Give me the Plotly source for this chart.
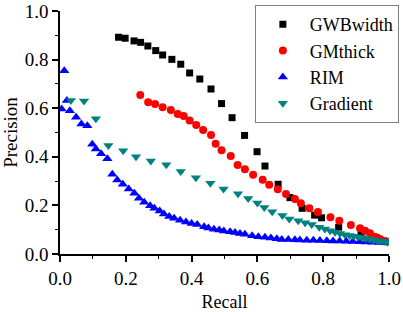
import plotly.graph_objects as go

# GWBwidth (black squares)
gwb_recall = [0.178, 0.198, 0.225, 0.245, 0.267, 0.291, 0.312, 0.340, 0.367, 0.394,
              0.425, 0.459, 0.491, 0.523, 0.561, 0.599, 0.623, 0.663, 0.699, 0.736,
              0.774, 0.795, 0.847, 0.915, 0.961, 1.000]
gwb_precision = [0.892, 0.888, 0.877, 0.871, 0.856, 0.837, 0.819, 0.801, 0.781, 0.745,
                 0.720, 0.679, 0.619, 0.561, 0.488, 0.421, 0.362, 0.287, 0.232, 0.188,
                 0.160, 0.149, 0.110, 0.081, 0.067, 0.050]

# GMthick (red circles)
gm_recall = [0.244, 0.268, 0.289, 0.312, 0.337, 0.358, 0.376, 0.394, 0.414, 0.435,
             0.459, 0.473, 0.491, 0.519, 0.540, 0.562, 0.587, 0.616, 0.636, 0.662,
             0.687, 0.714, 0.732, 0.758, 0.784, 0.822, 0.849, 0.884, 0.912, 0.927,
             0.942, 0.957, 0.973, 0.988]
gm_precision = [0.654, 0.624, 0.617, 0.604, 0.593, 0.576, 0.568, 0.549, 0.531, 0.510,
                0.490, 0.454, 0.427, 0.403, 0.366, 0.349, 0.326, 0.306, 0.285, 0.266,
                0.247, 0.226, 0.209, 0.188, 0.173, 0.151, 0.137, 0.119, 0.106, 0.096,
                0.085, 0.071, 0.062, 0.054]

# RIM (blue triangles)
rim_recall = [0.005, 0.013, 0.021, 0.030, 0.049, 0.065, 0.083, 0.098, 0.109, 0.125,
              0.144, 0.159, 0.174, 0.191, 0.209, 0.226, 0.240, 0.256, 0.274, 0.287,
              0.303, 0.316, 0.332, 0.347, 0.365, 0.383, 0.400, 0.417, 0.438, 0.451,
              0.468, 0.484, 0.498, 0.517, 0.532, 0.547, 0.562, 0.584, 0.603, 0.623,
              0.641, 0.659, 0.674, 0.694, 0.714, 0.729, 0.750, 0.770, 0.790, 0.811,
              0.830, 0.850, 0.870, 0.890, 0.910, 0.930, 0.950, 0.970, 0.990]
rim_precision = [0.597, 0.754, 0.632, 0.590, 0.563, 0.535, 0.528, 0.452, 0.432, 0.413,
                 0.392, 0.328, 0.305, 0.287, 0.267, 0.250, 0.229, 0.213, 0.199, 0.188,
                 0.177, 0.165, 0.154, 0.147, 0.139, 0.132, 0.126, 0.121, 0.112, 0.107,
                 0.102, 0.099, 0.095, 0.092, 0.088, 0.084, 0.081, 0.075, 0.071, 0.069,
                 0.066, 0.063, 0.060, 0.060, 0.059, 0.058, 0.057, 0.057, 0.056, 0.055,
                 0.054, 0.053, 0.052, 0.051, 0.050, 0.049, 0.048, 0.047, 0.046]

# Gradient (teal inverted triangles)
grad_recall = [0.033, 0.073, 0.109, 0.147, 0.192, 0.231, 0.276, 0.323, 0.367, 0.413,
               0.457, 0.497, 0.541, 0.572, 0.600, 0.621, 0.645, 0.676, 0.697, 0.724,
               0.745, 0.765, 0.788, 0.805, 0.821, 0.836, 0.851, 0.866, 0.880, 0.893,
               0.906, 0.918, 0.930, 0.942, 0.953, 0.964, 0.975, 0.985, 0.995]
grad_precision = [0.632, 0.630, 0.557, 0.446, 0.425, 0.400, 0.383, 0.367, 0.340, 0.314,
                  0.291, 0.267, 0.248, 0.228, 0.210, 0.191, 0.174, 0.158, 0.144, 0.137,
                  0.129, 0.121, 0.110, 0.103, 0.096, 0.089, 0.084, 0.079, 0.076, 0.073,
                  0.070, 0.067, 0.064, 0.061, 0.058, 0.055, 0.053, 0.051, 0.049]

FONT = '"Liberation Serif", "Times New Roman", serif'

fig = go.Figure()
fig.add_trace(go.Scatter(x=gwb_recall, y=gwb_precision, mode="markers", name="GWBwidth",
                         marker=dict(symbol="square", size=7, color="#000000")))
fig.add_trace(go.Scatter(x=gm_recall, y=gm_precision, mode="markers", name="GMthick",
                         marker=dict(symbol="circle", size=8, color="#ff0000")))
fig.add_trace(go.Scatter(x=rim_recall, y=rim_precision, mode="markers", name="RIM",
                         marker=dict(symbol="triangle-up", size=9, color="#0000ff")))
fig.add_trace(go.Scatter(x=grad_recall, y=grad_precision, mode="markers", name="Gradient",
                         marker=dict(symbol="triangle-down", size=9, color="#008080")))

axis_common = dict(
    showgrid=False, zeroline=False, showline=True, linecolor="black", linewidth=1.5,
    ticks="outside", ticklen=6, tickwidth=1.5, tickcolor="black",
    tickfont=dict(family=FONT, size=19, color="black"),
    minor=dict(ticks="outside", ticklen=3, tickwidth=1.2, tickcolor="black", dtick=0.1),
    mirror=False, automargin=False,
)

fig.update_xaxes(range=[0, 1.0], dtick=0.2, tickformat=".1f",
                 title=dict(text="Recall", font=dict(family=FONT, size=18, color="black"), standoff=8),
                 **axis_common)
fig.update_yaxes(range=[0, 1.0], dtick=0.2, tickformat=".1f",
                 title=dict(text="Precision", font=dict(family=FONT, size=19, color="black"), standoff=8),
                 **axis_common)

fig.update_layout(
    template="none",
    width=403, height=312,
    margin=dict(l=60, r=14, t=11, b=58, autoexpand=False),
    plot_bgcolor="white", paper_bgcolor="white",
    font=dict(family=FONT, color="black", size=18),
    legend=dict(x=1.03, xanchor="right", y=1.025, yanchor="top",
                bordercolor="#808080", borderwidth=1, bgcolor="white",
                font=dict(family=FONT, size=18, color="black"),
                tracegroupgap=0, itemwidth=44),
)

post = """
document.body.style.margin='0';document.body.style.padding='0';
"""

fig.write_html("out.html", config={"displayModeBar": False}, post_script=post)
